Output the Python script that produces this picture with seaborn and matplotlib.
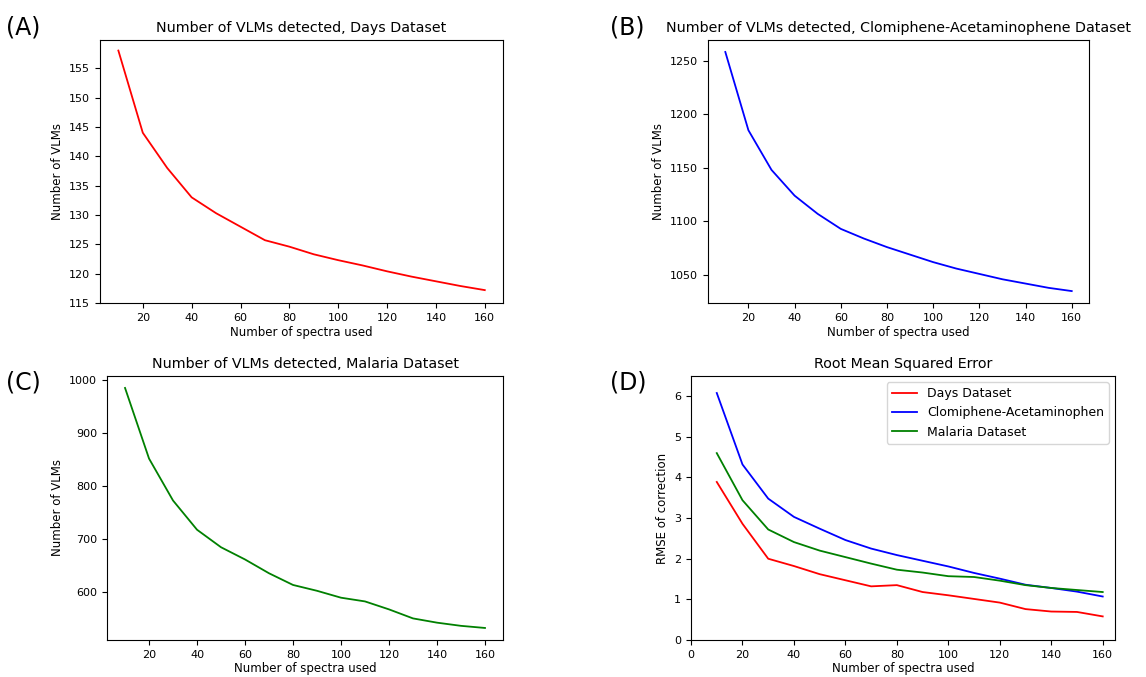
import pandas as pd
import seaborn as sns
import matplotlib
matplotlib.use("Agg")
import matplotlib.pyplot as plt

# values
spectra = [10, 20, 30, 40, 50, 60, 70, 80, 90, 100, 110, 120, 130, 140, 150, 160]

vlm_days = [158, 144, 138, 133, 130.3, 128, 125.7, 124.6, 123.3, 122.3,
            121.4, 120.4, 119.5, 118.7, 117.9, 117.2]
vlm_clomiphene = [1258, 1185, 1148, 1124, 1107, 1093, 1084, 1076, 1069, 1062,
                  1056, 1051, 1046, 1042, 1038, 1035]
vlm_malaria = [985, 852, 773, 718, 685, 662, 636, 614, 603, 590,
               583, 568, 551, 543, 537, 533]

rmse_days = [3.89, 2.86, 2.0, 1.82, 1.62, 1.47, 1.32, 1.35, 1.18, 1.10,
             1.01, 0.92, 0.76, 0.70, 0.69, 0.58]
rmse_clomiphene = [6.08, 4.32, 3.48, 3.03, 2.74, 2.46, 2.25, 2.09, 1.95, 1.81,
                   1.65, 1.51, 1.36, 1.28, 1.19, 1.07]
rmse_malaria = [4.6, 3.44, 2.72, 2.41, 2.2, 2.04, 1.88, 1.73, 1.66, 1.57,
                1.55, 1.46, 1.35, 1.28, 1.23, 1.18]

plt.rcParams["font.family"] = "DejaVu Sans"
plt.rcParams["xtick.labelsize"] = 8
plt.rcParams["ytick.labelsize"] = 8
plt.rcParams["axes.labelsize"] = 8.5
plt.rcParams["axes.titlesize"] = 10.3

fig = plt.figure(figsize=(11.46, 6.77), dpi=100)
axA = fig.add_axes([0.0873, 0.5524, 0.3517, 0.3885])
axB = fig.add_axes([0.6178, 0.5524, 0.3325, 0.3885])
axC = fig.add_axes([0.0934, 0.0547, 0.3455, 0.3900])
axD = fig.add_axes([0.6030, 0.0547, 0.3700, 0.3900])

sns.lineplot(x=spectra, y=vlm_days, color="red", lw=1.3, ax=axA)
axA.set_title("Number of VLMs detected, Days Dataset")
axA.set_ylim(115, 159.8)

sns.lineplot(x=spectra, y=vlm_clomiphene, color="blue", lw=1.3, ax=axB)
axB.set_title("Number of VLMs detected, Clomiphene-Acetaminophene Dataset")

sns.lineplot(x=spectra, y=vlm_malaria, color="green", lw=1.3, ax=axC)
axC.set_title("Number of VLMs detected, Malaria Dataset")

for ax in [axA, axB, axC]:
    ax.set_xlabel("Number of spectra used", labelpad=2)
    ax.set_ylabel("Number of VLMs")
    ax.set_xticks([20, 40, 60, 80, 100, 120, 140, 160])

sns.lineplot(x=spectra, y=rmse_days, color="red", lw=1.3, label="Days Dataset", ax=axD)
sns.lineplot(x=spectra, y=rmse_clomiphene, color="blue", lw=1.3, label="Clomiphene-Acetaminophen", ax=axD)
sns.lineplot(x=spectra, y=rmse_malaria, color="green", lw=1.3, label="Malaria Dataset", ax=axD)
axD.set_title("Root Mean Squared Error")
axD.set_xlabel("Number of spectra used", labelpad=2)
axD.set_ylabel("RMSE of correction")
axD.set_xlim(0, 164.8)
axD.set_ylim(0, 6.5)
axD.set_xticks(range(0, 161, 20))
axD.legend(loc="upper right", fontsize=9)

fig.text(0.005, 0.96, "(A)", fontsize=17, va="center")
fig.text(0.532, 0.96, "(B)", fontsize=17, va="center")
fig.text(0.005, 0.435, "(C)", fontsize=17, va="center")
fig.text(0.532, 0.435, "(D)", fontsize=17, va="center")

fig.savefig("out.png", dpi=100)
